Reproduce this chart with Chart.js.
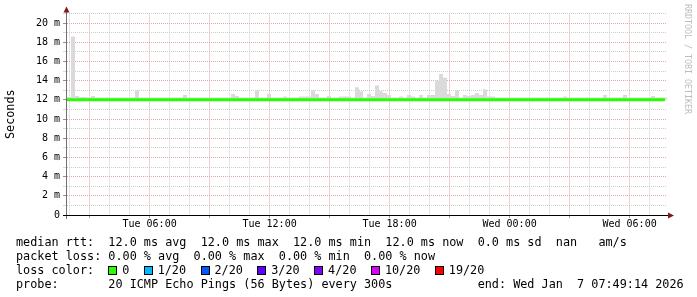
<!DOCTYPE html>
<html>
<head>
<meta charset="utf-8">
<script src="https://cdn.jsdelivr.net/npm/chart.js@4.4.0/dist/chart.umd.min.js"></script>
<style>
  html, body { margin: 0; padding: 0; background: #fff; }
  #wrap { position: relative; width: 697px; height: 297px; overflow: hidden; font-family: "DejaVu Sans Mono", monospace; }
  #chart { position: absolute; left: 0; top: 0; }
  .line { position: absolute; left: 16px; font-size: 11.8px; line-height: 14px; white-space: pre; color: #000; }
  .box { display: inline-block; width: 7px; height: 7px; border: 1px solid #000; margin-left: 14.6px; vertical-align: -1px; }
  .box.first { margin-left: 0; }
  .lbl { margin-left: 4.8px; }
  #mark { position: absolute; left: 683px; top: 4px; writing-mode: vertical-rl; font-size: 8.3px; color: #bdbdbd; white-space: pre; }
</style>
</head>
<body>
<div id="wrap">
  <canvas id="chart" width="697" height="297"></canvas>
  <div class="line" style="top:234.5px">median rtt:  12.0 ms avg  12.0 ms max  12.0 ms min  12.0 ms now  0.0 ms sd  nan   am/s</div>
  <div class="line" style="top:248.5px">packet loss: 0.00 % avg  0.00 % max  0.00 % min  0.00 % now</div>
  <div class="line" id="losses" style="top:262.5px">loss color:  </div>
  <div class="line" style="top:276.5px">probe:       20 ICMP Echo Pings (56 Bytes) every 300s            end: Wed Jan  7 07:49:14 2026</div>
  <div id="mark">RRDTOOL / TOBI OETIKER</div>
</div>
<script>
// time is in minutes since Tue 00:00
const startMin = 112.23;
const endMin = 1912.23;
const binMinutes = 12;

// upper edge of the smoke (ms), one value per 12 minute bin
const smokeMax = [
  12.3, 18.6, 12.4, 12.3, 12.3, 12.25, 12.4, 12.25, 12.25, 12.25,
  12.25, 12.25, 12.25, 12.25, 12.25, 12.25, 12.25, 13.0, 12.25, 12.25,
  12.25, 12.25, 12.25, 12.25, 12.25, 12.25, 12.25, 12.25, 12.25, 12.5,
  12.25, 12.25, 12.25, 12.25, 12.25, 12.25, 12.25, 12.25, 12.25, 12.25,
  12.25, 12.6, 12.4, 12.25, 12.25, 12.25, 12.25, 13.0, 12.25, 12.25,
  12.6, 12.25, 12.25, 12.25, 12.35, 12.25, 12.25, 12.25, 12.35, 12.35,
  12.35, 13.0, 12.6, 12.25, 12.25, 12.4, 12.25, 12.25, 12.35, 12.35,
  12.35, 12.25, 13.3, 12.9, 12.25, 12.6, 12.4, 13.5, 12.9, 12.7,
  12.5, 12.25, 12.25, 12.35, 12.25, 12.5, 12.35, 12.25, 12.5, 12.25,
  12.5, 12.5, 14.0, 14.7, 14.3, 12.6, 12.4, 13.0, 12.25, 12.5,
  12.4, 12.5, 12.7, 12.5, 13.1, 12.35, 12.35, 12.25, 12.25, 12.25,
  12.25, 12.25, 12.25, 12.25, 12.25, 12.25, 12.25, 12.25, 12.25, 12.25,
  12.25, 12.25, 12.25, 12.25, 12.35, 12.25, 12.25, 12.25, 12.25, 12.25,
  12.25, 12.25, 12.25, 12.25, 12.5, 12.25, 12.25, 12.25, 12.25, 12.5,
  12.25, 12.25, 12.25, 12.25, 12.25, 12.25, 12.4, 12.25, 12.25, 12.25
];
const smokeBase = 12.0;

// median rtt (ms)
const medianTimes = [112.23, 480, 840, 1200, 1560, 1906];
const medianRtt = [12.0, 12.0, 12.0, 12.0, 12.0, 12.0];

// x labels
const labelMinutes = [360, 720, 1080, 1440, 1800];
const labelTexts = ['Tue 06:00', 'Tue 12:00', 'Tue 18:00', 'Wed 00:00', 'Wed 06:00'];

// loss legend
const lossLabels = ['0', '1/20', '2/20', '3/20', '4/20', '10/20', '19/20'];
const lossColors = ['#26ff00', '#00b8ff', '#0059ff', '#5e00ff', '#7e00ff', '#dd00ff', '#ff0000'];

const losses = document.getElementById('losses');
lossLabels.forEach((l, i) => {
  const b = document.createElement('span');
  b.className = 'box' + (i === 0 ? ' first' : '');
  b.style.background = lossColors[i];
  losses.appendChild(b);
  const t = document.createElement('span');
  t.className = 'lbl';
  t.textContent = l;
  losses.appendChild(t);
});

const smokePoints = smokeMax.map((v, i) => ({ x: startMin + i * binMinutes, y: v }));
smokePoints.push({ x: endMin, y: smokeMax[smokeMax.length - 1] });

const hourTicks = [];
for (let m = 120; m <= 1860; m += 60) hourTicks.push(m);

const MONO = '"DejaVu Sans Mono", monospace';
const MINOR = '#cccccc';
const MAJOR = '#e2a8a8';

/* ---------- axes + arrows, rrdtool style ---------- */
const rrdAxes = {
  id: 'rrdAxes',
  afterDraw(chart) {
    const { ctx, chartArea: a } = chart;
    ctx.save();
    ctx.lineWidth = 1;
    ctx.strokeStyle = '#707070';
    ctx.beginPath();
    ctx.moveTo(a.left - 0.5, a.bottom + 4);
    ctx.lineTo(a.left - 0.5, a.top - 2);
    ctx.stroke();
    ctx.strokeStyle = '#000';
    ctx.beginPath();
    ctx.moveTo(a.left - 4, a.bottom + 0.5);
    ctx.lineTo(a.right + 1, a.bottom + 0.5);
    ctx.stroke();
    ctx.fillStyle = '#801818';
    ctx.beginPath();
    ctx.moveTo(a.right + 1, a.bottom - 2.5);
    ctx.lineTo(a.right + 7, a.bottom + 0.5);
    ctx.lineTo(a.right + 1, a.bottom + 3.5);
    ctx.closePath();
    ctx.fill();
    ctx.beginPath();
    ctx.moveTo(a.left - 3.5, a.top - 1);
    ctx.lineTo(a.left - 0.5, a.top - 7);
    ctx.lineTo(a.left + 2.5, a.top - 1);
    ctx.closePath();
    ctx.fill();
    ctx.restore();
  }
};

new Chart(document.getElementById('chart'), {
  type: 'line',
  data: {
    datasets: [
      {
        label: 'median rtt',
        data: medianTimes.map((t, i) => ({ x: t, y: medianRtt[i] })),
        borderColor: '#26ff00',
        borderWidth: 3,
        pointRadius: 0,
        fill: false,
        order: 0
      },
      {
        label: 'smoke',
        data: smokePoints,
        borderWidth: 0,
        borderColor: 'rgba(0,0,0,0)',
        backgroundColor: '#dadada',
        pointRadius: 0,
        stepped: 'before',
        fill: { value: smokeBase },
        order: 1
      }
    ]
  },
  options: {
    responsive: false,
    animation: false,
    events: [],
    layout: { padding: { left: 0, top: 13.4, right: 30, bottom: 0 } },
    plugins: { legend: { display: false }, tooltip: { enabled: false } },
    scales: {
      x: {
        type: 'linear',
        min: startMin,
        max: endMin,
        afterBuildTicks: s => { s.ticks = hourTicks.map(v => ({ value: v })); },
        afterFit: s => { s.height = 82; },
        border: { display: false, dash: [1, 1] },
        grid: {
          color: c => (c.tick && c.tick.value % 180 === 0) ? MAJOR : MINOR,
          tickColor: c => (c.tick && c.tick.value % 180 === 0) ? '#a0a0a0' : 'rgba(0,0,0,0)',
          tickLength: 3,
          lineWidth: 1
        },
        ticks: {
          autoSkip: false,
          maxRotation: 0,
          padding: 0,
          color: '#000',
          font: { family: MONO, size: 10 },
          callback: v => {
            const i = labelMinutes.indexOf(v);
            return i >= 0 ? labelTexts[i] : '';
          }
        }
      },
      y: {
        min: 0,
        max: 21,
        afterFit: s => { s.width = 67; },
        border: { display: false, dash: [1, 1] },
        grid: {
          color: c => (c.tick && c.tick.value % 2 === 0) ? MAJOR : MINOR,
          tickColor: c => (c.tick && c.tick.value % 2 === 0) ? '#909090' : '#d8d8d8',
          tickLength: 4,
          lineWidth: 1
        },
        ticks: {
          stepSize: 1,
          autoSkip: false,
          padding: 3,
          color: '#000',
          font: { family: MONO, size: 10 },
          callback: v => v % 2 === 0 ? (v === 0 ? '0' : v + ' m') : ''
        },
        title: {
          display: true,
          text: 'Seconds',
          color: '#000',
          font: { family: MONO, size: 11.8 },
          padding: { top: 4, bottom: 0 }
        }
      }
    }
  },
  plugins: [rrdAxes]
});
</script>
</body>
</html>
